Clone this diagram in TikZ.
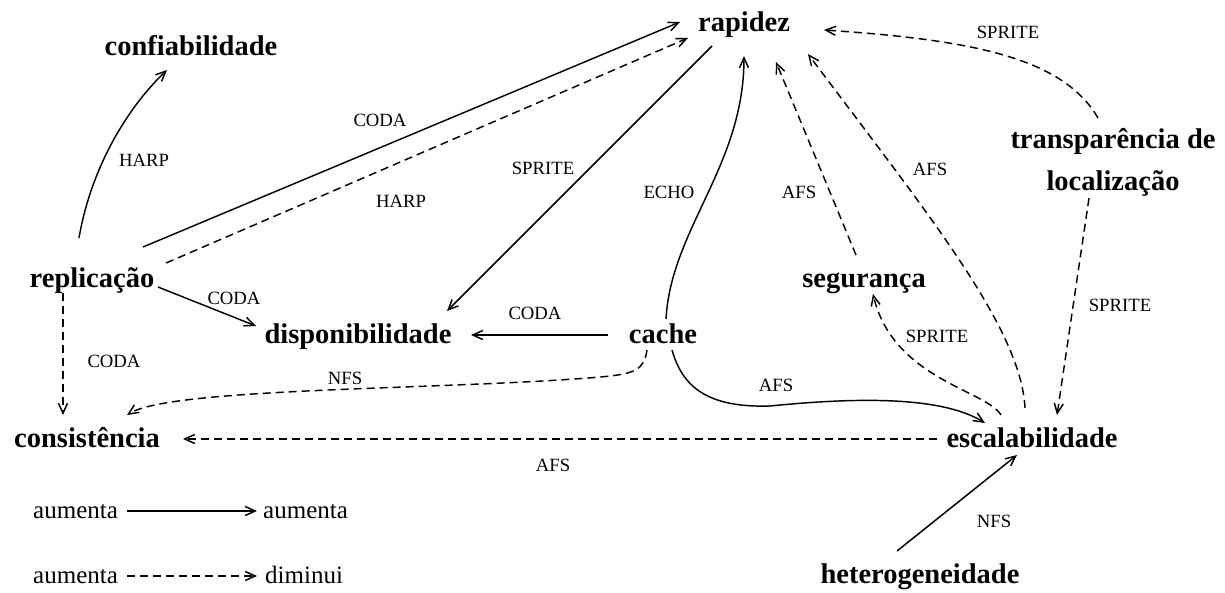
\documentclass[tikz,border=0pt]{standalone}
\usepackage{fontspec}
\setmainfont{Liberation Serif}
\usetikzlibrary{arrows.meta}
\begin{document}
\begin{tikzpicture}[x=1pt,y=-1pt,
  concept/.style={inner sep=0pt, font=\fontsize{28.5}{42}\selectfont\bfseries, anchor=base},
  tag/.style={inner sep=0pt, font=\fontsize{18.7}{22}\selectfont},
  legendtext/.style={inner sep=0pt, font=\fontsize{25}{30}\selectfont, anchor=base west},
  up/.style={line width=1.45pt, -{Straight Barb[length=10pt,width=9pt]}},
  down/.style={up, dash pattern=on 8pt off 5pt},
]
\useasboundingbox (0,0) rectangle (1225,592);

% concepts (the two-line node is placed by the baseline of its last line)
\node[concept] (rap)   at (744,31)  {rapidez};
\node[concept] (conf)  at (191,55)  {confiabilidade};
\node[concept] (rep)   at (92,287)  {replicação};
\node[concept] (disp)  at (358,343) {disponibilidade};
\node[concept] (cache) at (663,343) {cache};
\node[concept] (seg)   at (864,287) {segurança};
\node[concept, align=center] (trans) at (1113,190) {transparência de\\localização};
\node[concept] (cons)  at (87,447)  {consistência};
\node[concept] (esc)   at (1032,447) {escalabilidade};
\node[concept] (het)   at (920,583) {heterogeneidade};

% system labels on the relations
\node[tag] (t1)  at (144,160) {HARP};
\node[tag] (t2)  at (380,120) {CODA};
\node[tag] (t3)  at (401,201) {HARP};
\node[tag] (t4)  at (543,168) {SPRITE};
\node[tag] (t5)  at (669,192) {ECHO};
\node[tag] (t6)  at (799,192) {AFS};
\node[tag] (t7)  at (930,169) {AFS};
\node[tag] (t8)  at (1008,32) {SPRITE};
\node[tag] (t9)  at (1120,305) {SPRITE};
\node[tag] (t10) at (937,336) {SPRITE};
\node[tag] (t11) at (994,521) {NFS};
\node[tag] (t12) at (776,385) {AFS};
\node[tag] (t13) at (553,465) {AFS};
\node[tag] (t14) at (535,313) {CODA};
\node[tag] (t15) at (234,298) {CODA};
\node[tag] (t16) at (114,361) {CODA};
\node[tag] (t17) at (345,378) {NFS};

% relations
\draw[up] ([shift={(-13,-49)}]rep.base) .. controls +(12,-70) and +(-40,38) .. ([shift={(-24,15)}]conf.base);
\draw[up] ([shift={(51,-40)}]rep.base) -- ([shift={(-64,-9)}]rap.base);
\draw[down] ([shift={(74,-24)}]rep.base) -- ([shift={(-56,7)}]rap.base);
\draw[up] ([shift={(-32,15)}]rap.base) -- ([shift={(89,-32)}]disp.base);
\draw[up] ([shift={(3,-24)}]cache.base) .. controls +(5,-90) and +(0,110) .. ([shift={(0,25)}]rap.base);
\draw[down] ([shift={(-8,-32)}]seg.base) -- ([shift={(32,31)}]rap.base);
\draw[down] ([shift={(-7,-39)}]esc.base) .. controls +(-4,-80) and +(120,160) .. ([shift={(64,23)}]rap.base);
\draw[down] ([shift={(-15,-72)}]trans.base) .. controls +(-35,-60) and +(150,10) .. ([shift={(80,-1)}]rap.base);
\draw[down] ([shift={(-24,8)}]trans.base) -- ([shift={(25,-32)}]esc.base);
\draw[down] ([shift={(-31,-32)}]esc.base) .. controls +(-15,-25) and +(20,85) .. ([shift={(9,7)}]seg.base);
\draw[up] ([shift={(9,7)}]cache.base) .. controls +(10,35) and +(-65,2) .. (770,406)
  .. controls +(80,-8) and +(-45,-28) .. ([shift={(-47,-24)}]esc.base);
\draw[down] ([shift={(-16,7)}]cache.base) .. controls +(-3,20) and +(35,-3) .. (600,377)
  .. controls +(-150,13) and +(43,-28) .. ([shift={(40,-32)}]cons.base);
\draw[down] ([shift={(-29,6)}]rep.base) -- ([shift={(-24,-32)}]cons.base);
\draw[up] ([shift={(66,0)}]rep.base) -- ([shift={(-102,-17)}]disp.base);
\draw[up] ([shift={(-55,-8)}]cache.base) -- ([shift={(113,-8)}]disp.base);
\draw[down] ([shift={(-95,-8)}]esc.base) -- ([shift={(96,-8)}]cons.base);
\draw[up] ([shift={(-23,-32)}]het.base) -- ([shift={(-15,8)}]esc.base);

% key
\node[legendtext] (la1) at (33,518)  {aumenta};
\node[legendtext] (lb1) at (263,518) {aumenta};
\node[legendtext] (la2) at (33,583)  {aumenta};
\node[legendtext] (lb2) at (265,583) {diminui};
\draw[up] ([shift={(9,-7)}]la1.base east) -- ([shift={(-6,-7)}]lb1.base west);
\draw[down] ([shift={(9,-7)}]la2.base east) -- ([shift={(-8,-7)}]lb2.base west);
\end{tikzpicture}
\end{document}
